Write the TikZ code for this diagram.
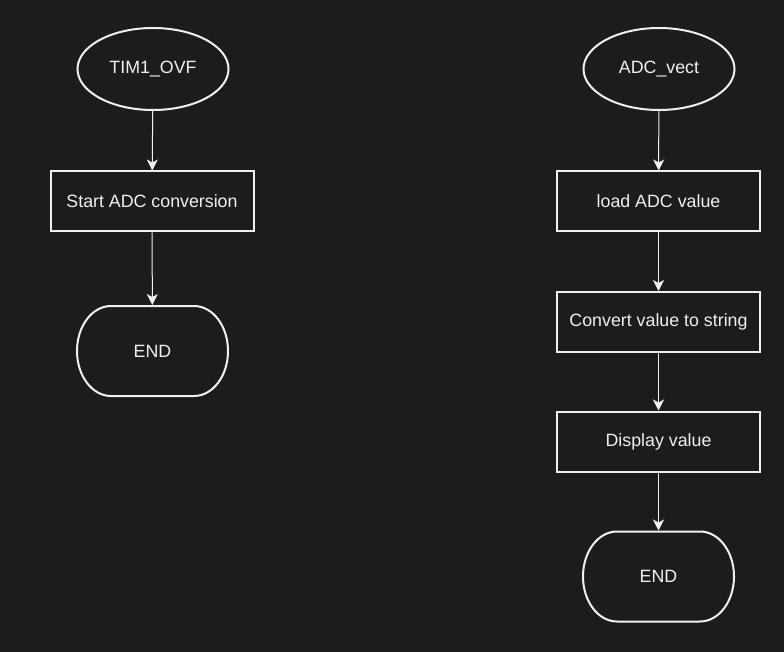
\documentclass[tikz,border=0pt]{standalone}
\usepackage{fontspec}
\setmainfont{Liberation Sans}
\usetikzlibrary{arrows.meta,shapes.geometric}
\definecolor{bg}{RGB}{27,28,30}
\definecolor{fg}{RGB}{240,240,240}
\begin{document}
\begin{tikzpicture}[x=1pt,y=-1pt,
  every node/.style={font=\fontsize{17.8}{20}\selectfont, text=fg, draw=fg, line width=2pt, inner sep=0pt},
  startnode/.style={ellipse, minimum width=151pt, minimum height=82pt},
  procbox/.style={rectangle, minimum width=203pt, minimum height=60pt},
  endnode/.style={rectangle, draw=none, minimum width=151pt, minimum height=90pt},
  endoutline/.style={draw=fg, line width=2pt},
  conn/.style={draw=fg, line width=1pt, -{Stealth[length=11pt,width=11pt,inset=3pt]}}]
\fill[bg] (0,0) rectangle (784,652);
\useasboundingbox (0,0) rectangle (784,652);
\node[startnode] (tim) at (153,69) {TIM1\_OVF};
\node[procbox] (start) at (152,201.5) {Start ADC conversion};
\node[endnode] (end1) at (152.5,351) {END};
\node[startnode] (adc) at (659,69) {ADC\_vect};
\node[procbox] (load) at (658.5,201.5) {load ADC value};
\node[procbox] (conv) at (658.5,322) {Convert value to string};
\node[procbox] (disp) at (658.5,441.5) {Display value};
\node[endnode] (end2) at (658.5,576.5) {END};
\foreach \e in {end1,end2}{
  \begin{scope}[shift={(\e.center)}]
  \draw[endoutline] (-41.5,-45) -- (41.5,-45)
    .. controls (60.3,-45) and (75.5,-24.9) .. (75.5,0)
    .. controls (75.5,24.9) and (60.3,45) .. (41.5,45)
    -- (-41.5,45)
    .. controls (-60.3,45) and (-75.5,24.9) .. (-75.5,0)
    .. controls (-75.5,-24.9) and (-60.3,-45) .. (-41.5,-45) -- cycle;
  \end{scope}
}
\draw[conn] (tim) -- (start);
\draw[conn] (start) -- (end1);
\draw[conn] (adc) -- (load);
\draw[conn] (load) -- (conv);
\draw[conn] (conv) -- (disp);
\draw[conn] (disp) -- (end2);
\end{tikzpicture}
\end{document}
